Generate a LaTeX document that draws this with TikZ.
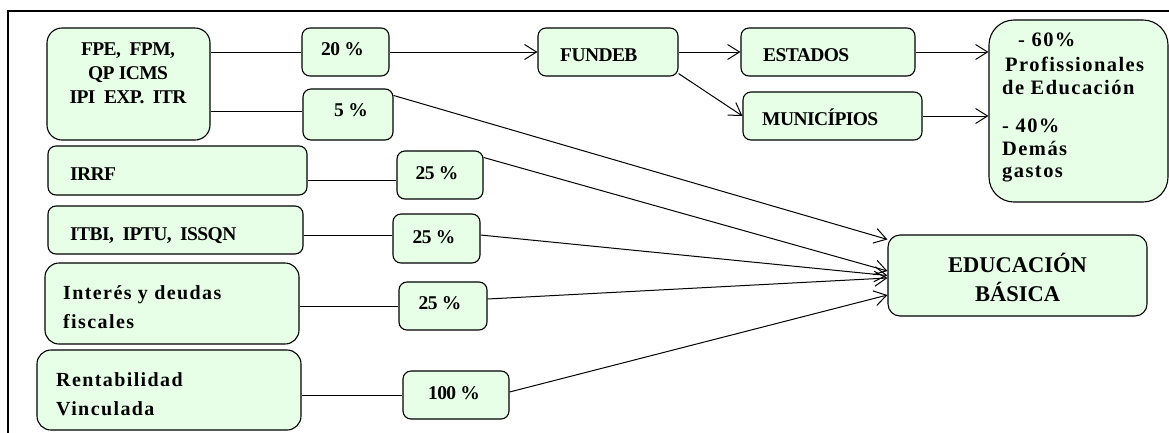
\documentclass[tikz,border=0pt]{standalone}
\usepackage{fontspec}
\setmainfont{Liberation Serif}[BoldFont=Liberation Serif Bold]
\newfontfamily\spacedfont{Liberation Serif}[LetterSpace=7,BoldFont=Liberation Serif Bold]
\newfontfamily\tightfont{Liberation Serif}[LetterSpace=-3,BoldFont=Liberation Serif Bold]
\usetikzlibrary{arrows.meta}
\definecolor{boxfill}{RGB}{230,255,230}
\tikzset{
  box/.style={draw, fill=boxfill, line width=1.1pt, rounded corners=8pt, inner sep=0pt},
  bigbox/.style={box, rounded corners=15pt},
  lbl/.style={inner sep=0pt, anchor=base west, font=\tightfont\bfseries\fontsize{19.5}{22}\selectfont},
  lblc/.style={lbl, anchor=base},
  slbl/.style={inner sep=0pt, anchor=base west, font=\spacedfont\bfseries\fontsize{20}{24}\selectfont},
  dlbl/.style={slbl, font=\spacedfont\bfseries\fontsize{20.5}{24}\selectfont},
  elbl/.style={inner sep=0pt, anchor=base, font=\bfseries\fontsize{22.5}{28}\selectfont},
  conn/.style={line width=1pt},
  arr/.style={conn, -{Straight Barb[length=12pt,width=15pt,line width=1pt]}}
}
\begin{document}
\begin{tikzpicture}[x=1pt,y=-1pt]
\useasboundingbox (0,0) rectangle (1169,432);
% frame
\draw[line width=1.8pt] (8,445) -- (8,11) -- (1185,11);

% boxes
\node[bigbox, minimum width=163pt, minimum height=112pt] (fpe) at (128.5,84) {};
\node[box, minimum width=87pt, minimum height=48pt] (p20) at (345.5,52) {};
\node[box, minimum width=90pt, minimum height=51pt] (p5) at (348,114.5) {};
\node[box, minimum width=259pt, minimum height=49pt] (irrf) at (177.5,170.5) {};
\node[box, minimum width=86pt, minimum height=48pt] (p25a) at (440,175) {};
\node[box, minimum width=255pt, minimum height=48pt] (itbi) at (175.5,230) {};
\node[box, minimum width=87pt, minimum height=49pt] (p25b) at (436.5,238.5) {};
\node[box, rounded corners=14pt, minimum width=254pt, minimum height=81pt] (inte) at (172,303.5) {};
\node[box, minimum width=88pt, minimum height=48pt] (p25c) at (443,306) {};
\node[box, rounded corners=14pt, minimum width=264pt, minimum height=80pt] (rent) at (169,390) {};
\node[box, minimum width=106pt, minimum height=48pt] (p100) at (456,395) {};
\node[box, minimum width=140pt, minimum height=48pt] (fundeb) at (608,52) {};
\node[box, minimum width=174pt, minimum height=48pt] (estados) at (828,52) {};
\node[box, minimum width=179pt, minimum height=48pt] (munic) at (832.5,116) {};
\node[box, rounded corners=25pt, minimum width=179pt, minimum height=182pt] (dest) at (1078.5,111) {};
\node[box, rounded corners=12pt, minimum width=259pt, minimum height=81pt] (edu) at (1017.5,275.5) {};

% texts
\node[lblc] (t1) at (128,55) {FPE,\ \ FPM,};
\node[lblc] (t2) at (128,79) {QP ICMS};
\node[lblc] (t3) at (128,103) {IPI\ \ EXP.\ \ ITR};
\node[lblc] (t20) at (342.5,55) {20 \%};
\node[lblc] (t5) at (351,116) {5 \%};
\node[lbl] (tirrf) at (70,180) {IRRF};
\node[lblc] (t25a) at (437,179) {25 \%};
\node[lbl] (titbi) at (70,240) {ITBI,\ \ IPTU,\ \ ISSQN};
\node[lblc] (t25b) at (434,243) {25 \%};
\node[slbl] (tint1) at (63,299) {Interés y deudas};
\node[slbl] (tint2) at (63,328) {fiscales};
\node[lblc] (t25c) at (440,309) {25 \%};
\node[slbl] (tren1) at (56,386) {Rentabilidad};
\node[slbl] (tren2) at (56,415) {Vinculada};
\node[lblc] (t100) at (454,399) {100 \%};
\node[lbl] (tfun) at (560,61) {FUNDEB};
\node[lbl] (test) at (763,61) {ESTADOS};
\node[lbl] (tmun) at (762,125) {MUNICÍPIOS};
\node[dlbl] (d1) at (1018,46) {- 60\%};
\node[dlbl] (d2) at (1005,71) {Profissionales};
\node[dlbl] (d3) at (1002,94) {de Educación};
\node[dlbl] (d4) at (1002,132) {- 40\%};
\node[dlbl] (d5) at (1002,155) {Demás};
\node[dlbl] (d6) at (1002,177) {gastos};
\node[elbl] (e1) at (1017.5,272) {EDUCACIÓN};
\node[elbl] (e2) at (1017.5,301) {BÁSICA};

% connectors
\draw[conn] (fpe.east |- p20.west) -- (p20.west);
\draw[conn] ([yshift=3pt]fpe.east |- p5.west) coordinate (c5) -- (c5 -| p5.west);
\draw[arr] (p20.east) -- (fundeb.west);
\draw[arr] (fundeb.east) -- (estados.west);
\draw[arr] ([yshift=3pt]fundeb.south east) -- (munic.west);
\draw[arr] (estados.east) -- (estados.east -| dest.west);
\draw[arr] (munic.east) -- (munic.east -| dest.west);
\draw[arr] ([yshift=-7pt]p5.north east) -- ([yshift=-5pt]edu.north west);

\draw[conn] ([yshift=-9.5pt]irrf.east) coordinate (c1) -- (c1 -| p25a.west);
\draw[conn] ([yshift=-5pt]itbi.east) coordinate (c2) -- (c2 -| p25b.west);
\draw[conn] (inte.east |- p25c.west) -- (p25c.west);
\draw[conn] (rent.east |- p100.west) -- (p100.west);

\draw[arr] ([yshift=-7pt]p25a.north east) -- ([yshift=4.5pt]edu.west);
\draw[arr] ([yshift=3.5pt]p25b.east) -- ([yshift=0pt]edu.west);
\draw[arr] ([yshift=7pt]p25c.east) -- ([yshift=-2.5pt]edu.west);
\draw[arr] ([yshift=3pt]p100.east) -- ([yshift=-19.5pt]edu.west);
\end{tikzpicture}
\end{document}
